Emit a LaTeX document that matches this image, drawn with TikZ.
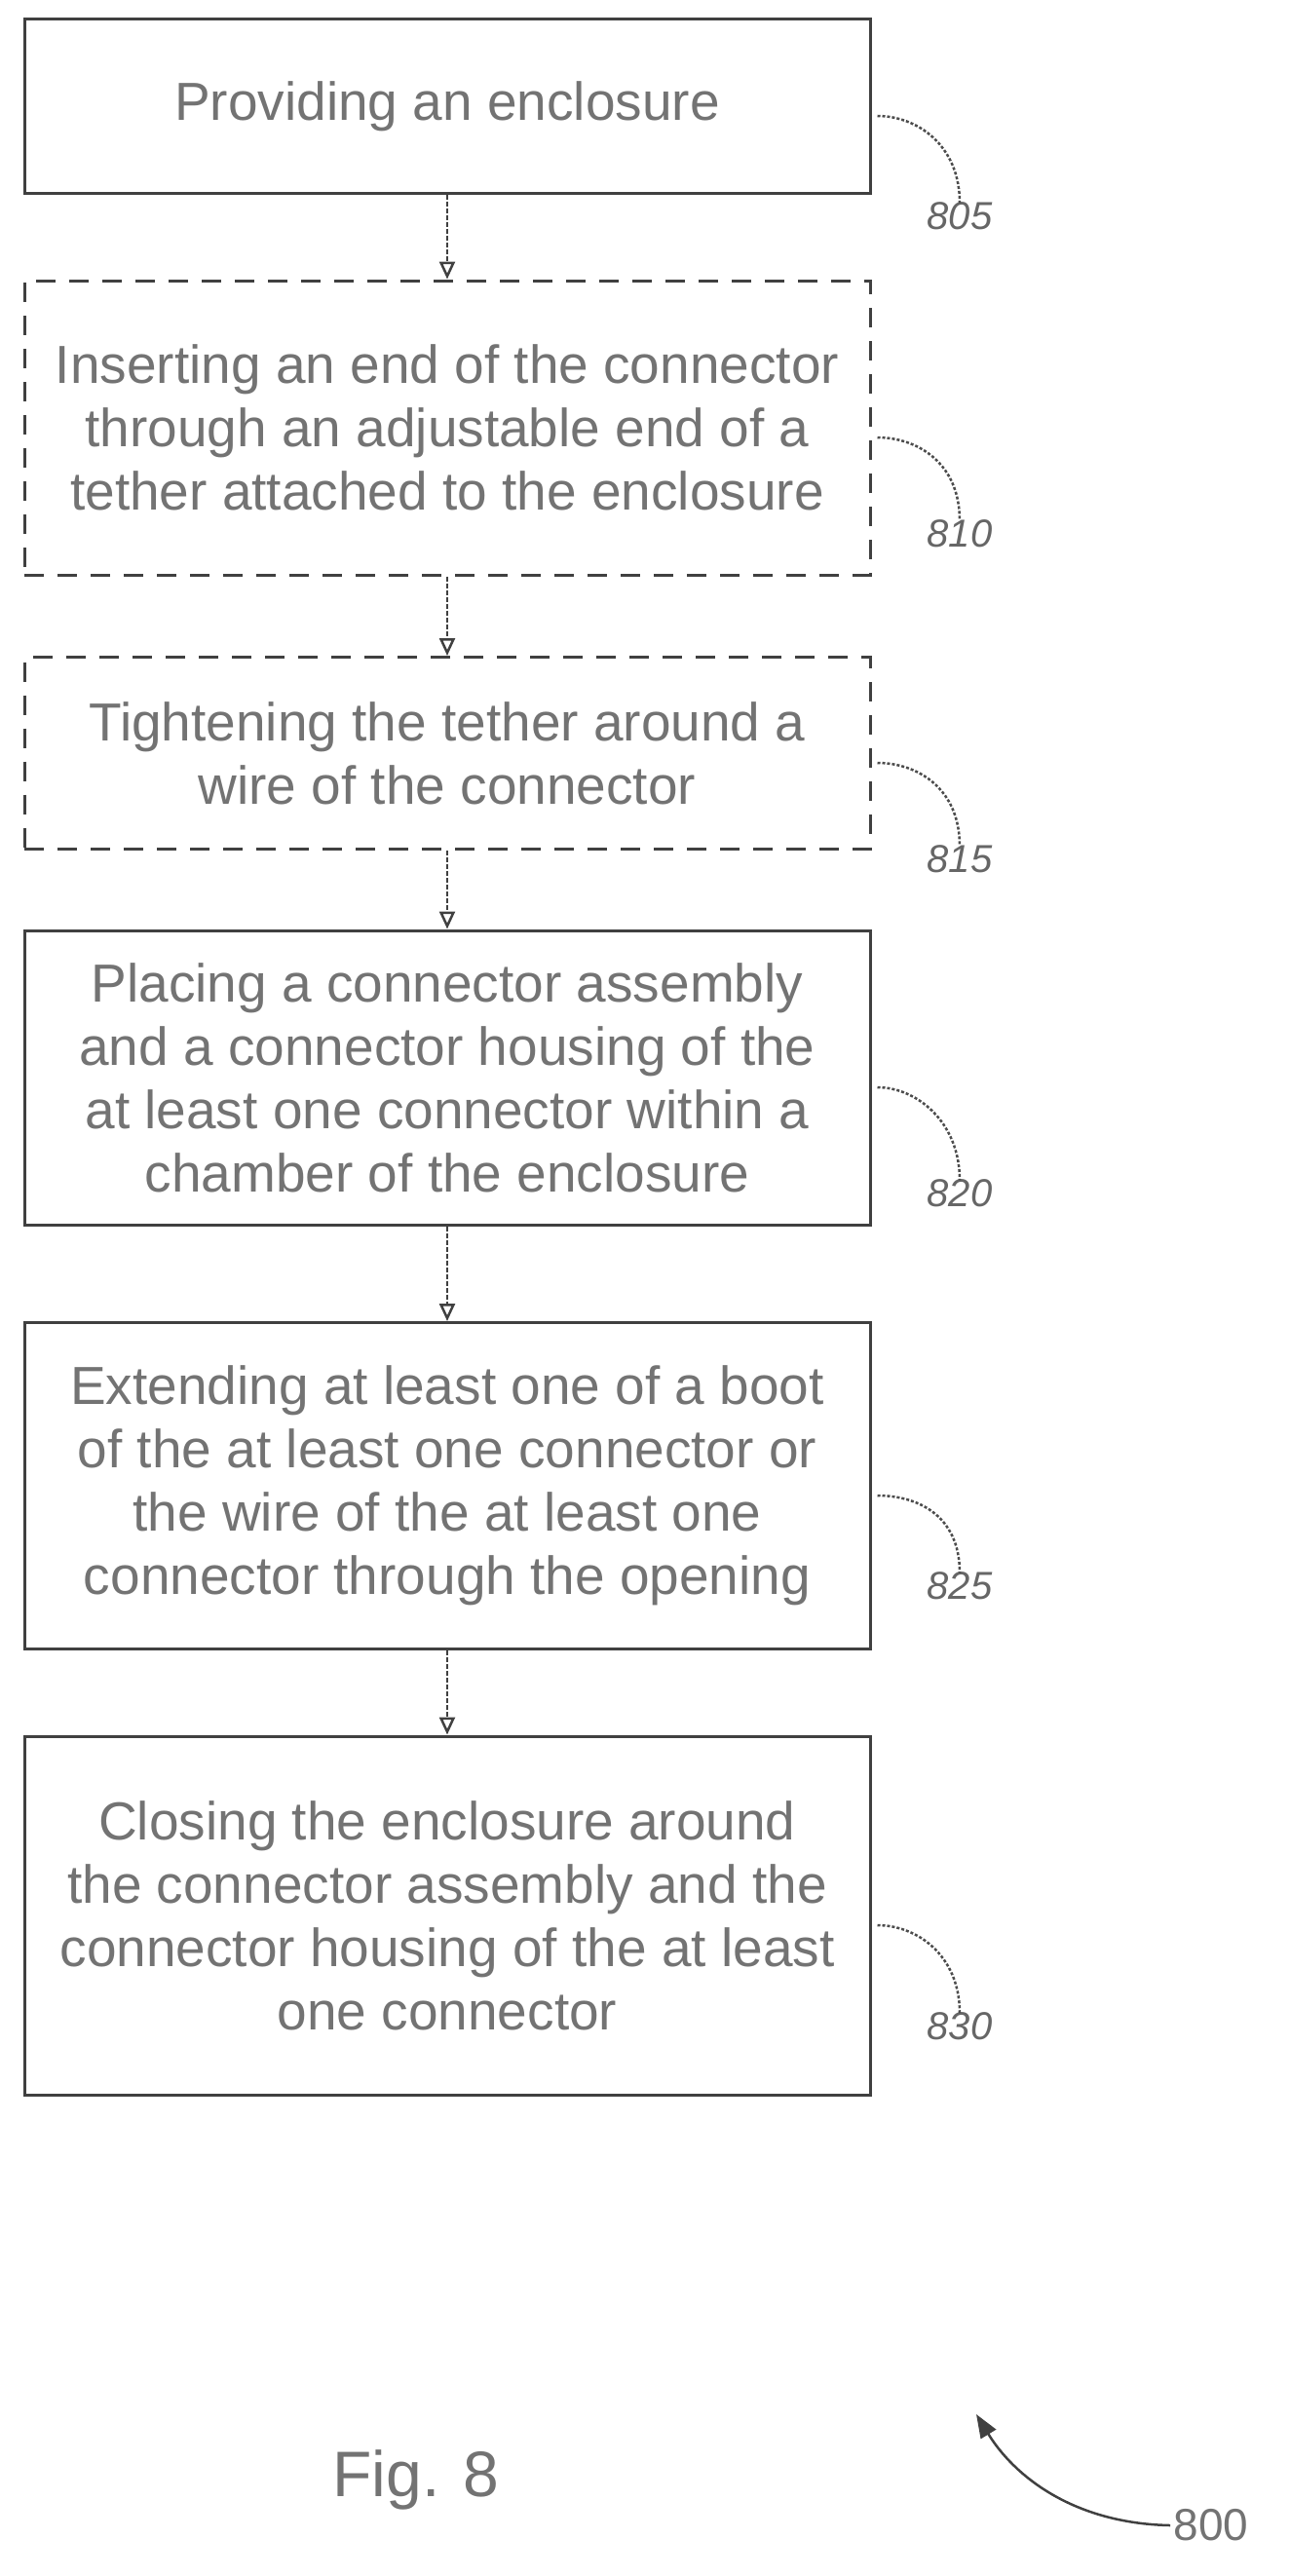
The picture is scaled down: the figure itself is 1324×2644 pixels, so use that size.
\documentclass[tikz,border=0pt]{standalone}
\usepackage{fontspec}
\setmainfont{Liberation Sans}
\usetikzlibrary{arrows.meta}
\begin{document}
\begin{tikzpicture}[x=1pt,y=-1pt,
  box/.style={draw=black!75,line width=3pt,align=center,text=black!55,font=\fontsize{55}{65}\selectfont,inner sep=0pt},
  dbox/.style={box,dash pattern=on 20pt off 14pt},
  arr/.style={draw=black!75,line width=2.5pt,dash pattern=on 5pt off 2pt,-{Triangle[open,length=18pt,width=16pt]}},
  lead/.style={draw=black!70,line width=2.5pt,dash pattern=on 3pt off 2pt},
  lbl/.style={text=black!60,font=\itshape\fontsize{40}{44}\selectfont}]
\useasboundingbox (0,0) rectangle (1324,2644);
\node[box,minimum width=868pt,minimum height=178pt] (b1) at (459,109) {Providing an enclosure};
\node[dbox,minimum width=868pt,minimum height=302pt] (b2) at (459,439) {Inserting an end of the connector\\through an adjustable end of a\\tether attached to the enclosure};
\node[dbox,minimum width=868pt,minimum height=197pt] (b3) at (459,773) {Tightening the tether around a\\wire of the connector};
\node[box,minimum width=868pt,minimum height=302pt] (b4) at (459,1106) {Placing a connector assembly\\and a connector housing of the\\at least one connector within a\\chamber of the enclosure};
\node[box,minimum width=868pt,minimum height=335pt] (b5) at (459,1525) {Extending at least one of a boot\\of the at least one connector or\\the wire of the at least one\\connector through the opening};
\node[box,minimum width=868pt,minimum height=368pt] (b6) at (459,1966) {Closing the enclosure around\\the connector assembly and the\\connector housing of the at least\\one connector};
\foreach \a/\b in {b1/b2,b2/b3,b3/b4,b4/b5,b5/b6} \draw[arr] (\a) -- (\b);
\foreach \b/\n/\y in {b1/805/222,b2/810/548,b3/815/882,b4/820/1225,b5/825/1628,b6/830/2080}{
  \node[lbl] (l\n) at (985,\y) {\n};
  \draw[lead] ([yshift=-10pt]\b.east) ++(6,0) coordinate (s\n) .. controls +(40,0) and +(0,-60) .. ([yshift=-4pt]l\n.north);
}
\node[font=\fontsize{66}{72}\selectfont,text=black!55] (fig) at (427,2545) {Fig. 8};
\node[font=\fontsize{46}{50}\selectfont,text=black!55] (n800) at (1243,2592) {800};
\coordinate (a800) at (1002,2478);
\draw[draw=black!75,line width=2.5pt,-{Triangle[length=24pt,width=18pt]}] (n800.west) .. controls (1100,2590) and (1040,2540) .. (a800);
\end{tikzpicture}
\end{document}
